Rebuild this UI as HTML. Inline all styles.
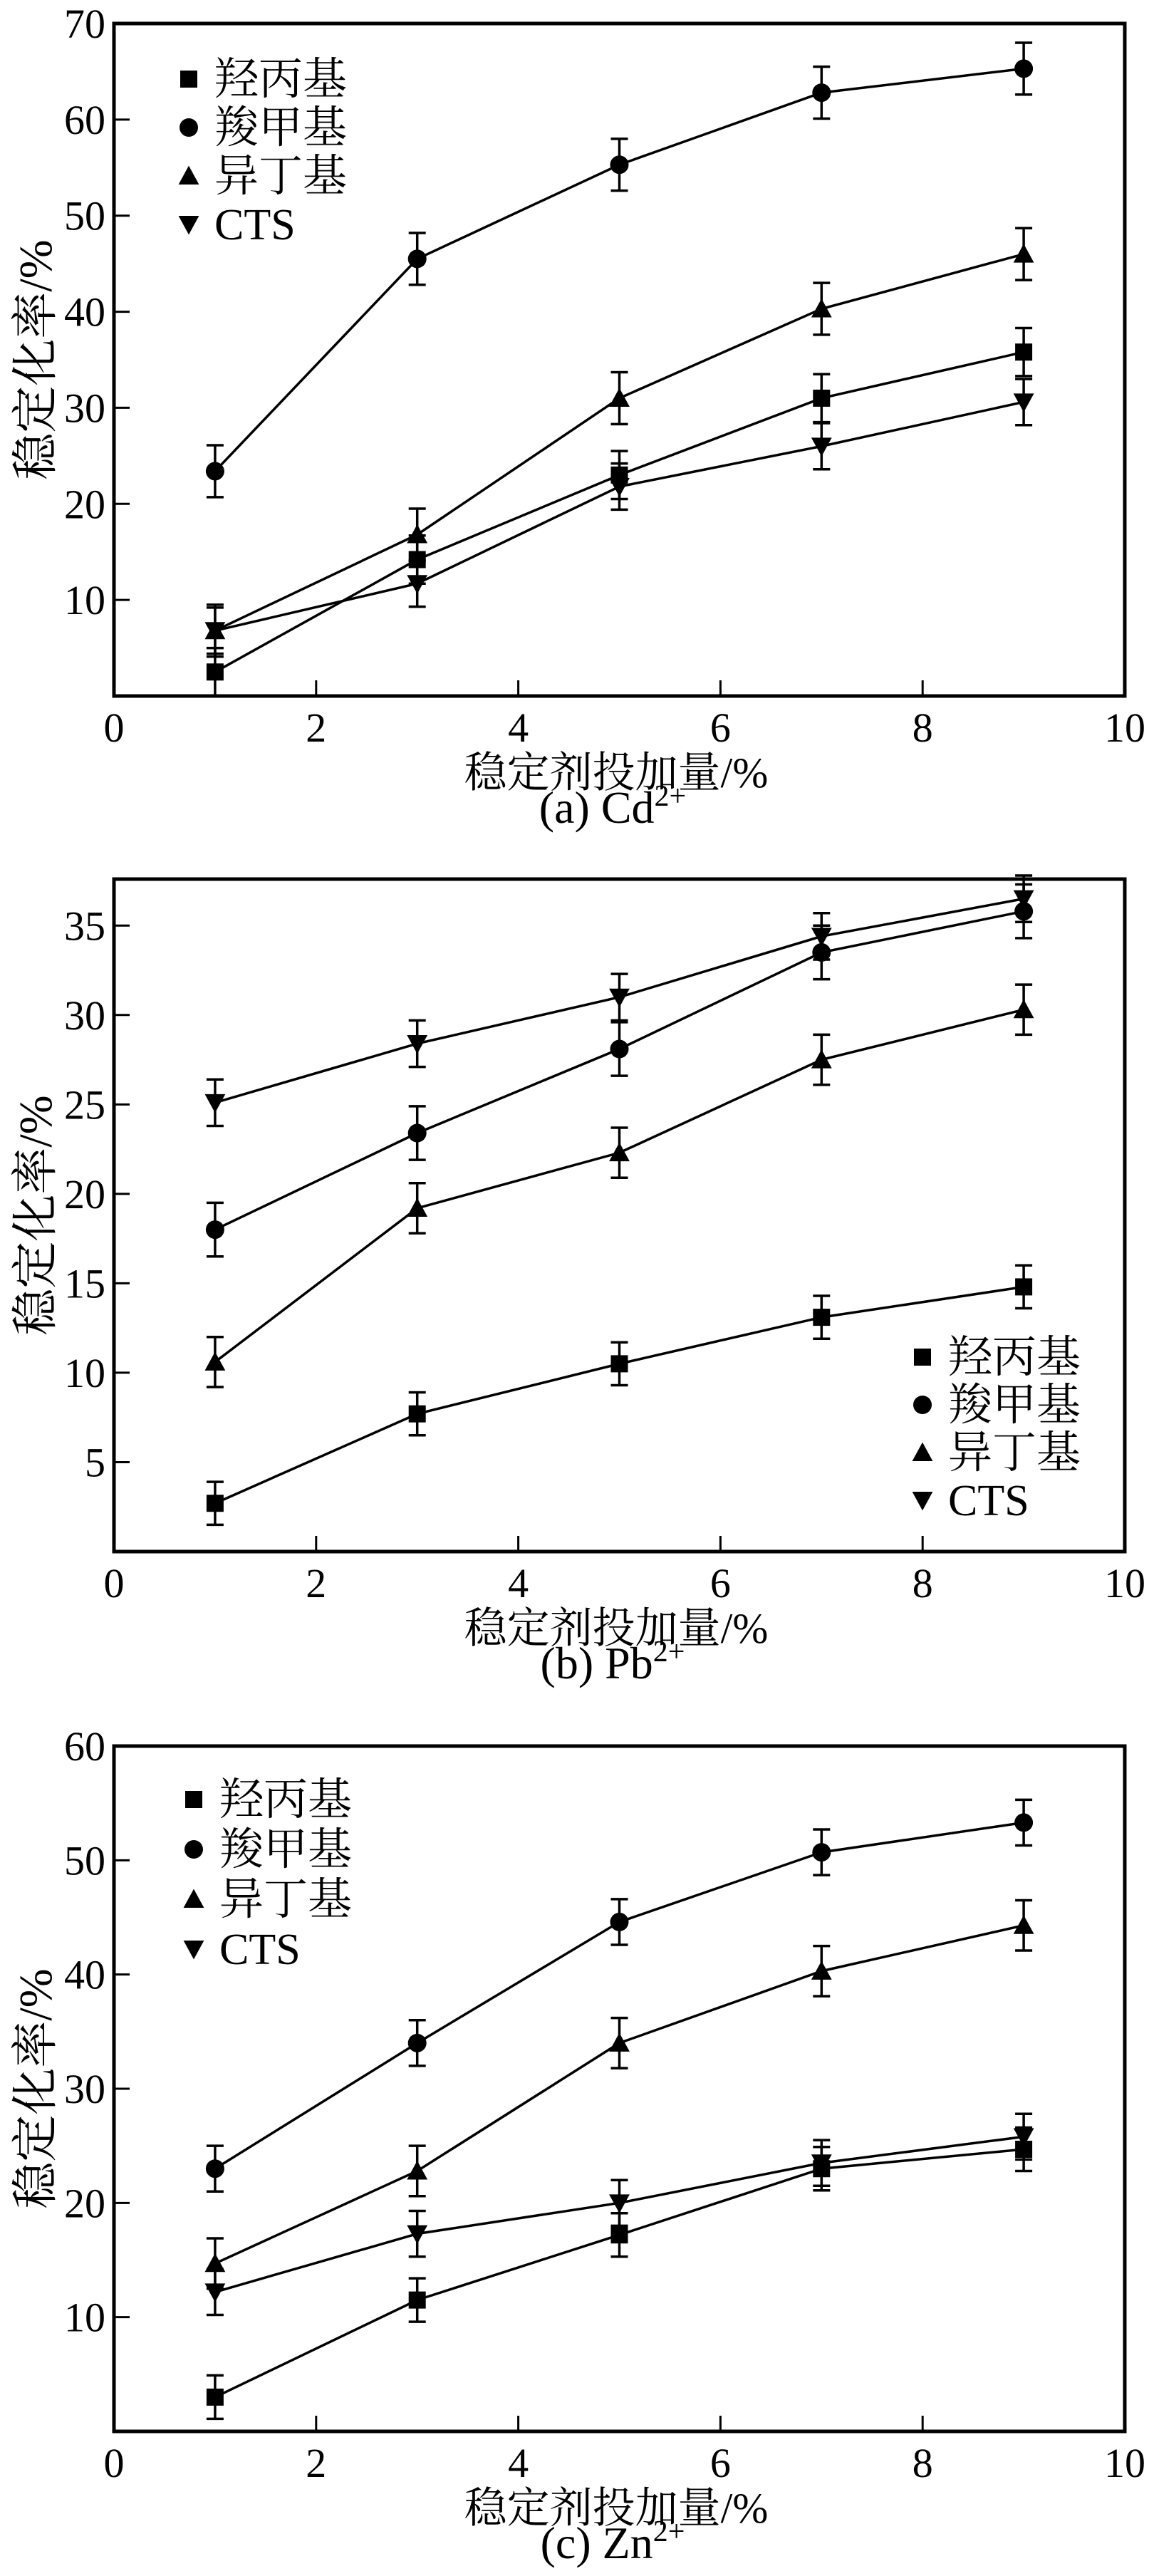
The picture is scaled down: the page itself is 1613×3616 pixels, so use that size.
<!DOCTYPE html>
<html><head><meta charset="utf-8">
<style>
html,body{margin:0;padding:0;background:#fff;}
svg{display:block;}
text{font-family:"Liberation Serif","Noto Serif CJK SC",serif;fill:#000;}
</style></head>
<body>
<svg id="fig" width="1613" height="3616" viewBox="0 0 1613 3616" xmlns="http://www.w3.org/2000/svg"></svg>
<script>
const xValues = [1, 3, 5, 7, 9];
const xTicks = [0, 2, 4, 6, 8, 10];
const seriesNames = ["羟丙基", "羧甲基", "异丁基", "CTS"];
const seriesMarkers = ["square", "circle", "up", "down"];

const aHydroxy = [2.5, 14.2, 23.0, 31.0, 35.8];
const aCarboxy = [23.4, 45.5, 55.3, 62.8, 65.3];
const aIsobutyl = [6.8, 16.8, 31.0, 40.3, 46.0];
const aCTS = [6.8, 11.7, 21.8, 26.0, 30.6];
const aErr = [2.5, 2.7, 2.7, 2.4];
const aYTicks = [10, 20, 30, 40, 50, 60, 70];

const bHydroxy = [2.7, 7.7, 10.5, 13.1, 14.8];
const bCarboxy = [18.0, 23.4, 28.1, 33.5, 35.8];
const bIsobutyl = [10.6, 19.2, 22.3, 27.5, 30.3];
const bCTS = [25.1, 28.4, 31.0, 34.4, 36.5];
const bErr = [1.2, 1.5, 1.4, 1.3];
const bYTicks = [5, 10, 15, 20, 25, 30, 35];

const cHydroxy = [3.0, 11.5, 17.2, 23.0, 24.7];
const cCarboxy = [23.0, 34.0, 44.6, 50.7, 53.3];
const cIsobutyl = [14.7, 22.8, 34.0, 40.3, 44.3];
const cCTS = [12.2, 17.3, 20.0, 23.5, 25.8];
const cErr = [1.9, 2.0, 2.2, 2.0];
const cYTicks = [10, 20, 30, 40, 50, 60];

const NS = "http://www.w3.org/2000/svg";
const svg = document.getElementById("fig");
function mk(tag, attrs, parent) {
  const e = document.createElementNS(NS, tag);
  for (const k in attrs) e.setAttribute(k, attrs[k]);
  (parent || svg).appendChild(e);
  return e;
}
function marker(g, type, cx, cy, s) {
  let e;
  if (type === "square") e = mk("rect", {x: cx - s/2, y: cy - s/2, width: s, height: s, fill: "#000"}, g);
  else if (type === "circle") e = mk("circle", {cx: cx, cy: cy, r: s/2 + 1, fill: "#000"}, g);
  else if (type === "up") e = mk("polygon", {points: `${cx-s*0.6},${cy+s*0.5} ${cx+s*0.6},${cy+s*0.5} ${cx},${cy-s*0.6}`, fill: "#000"}, g);
  else e = mk("polygon", {points: `${cx-s*0.6},${cy-s*0.5} ${cx+s*0.6},${cy-s*0.5} ${cx},${cy+s*0.6}`, fill: "#000"}, g);
  return e;
}

function drawChart(cfg) {
  const L = 160, R = 1579;
  const g = mk("g", {});
  
  
  const xs = v => L + (R - L) * v / 10;
  const ys = v => cfg.bottom - (cfg.bottom - cfg.top) * v / cfg.ymax;
  xTicks.forEach(t => {
    if (t > 0 && t < 10) {
      const tk = mk("line", {x1: xs(t), x2: xs(t), y1: cfg.bottom, y2: cfg.bottom - 22, stroke: "#000", "stroke-width": 3}, g);
      
      
    }
    const tl = mk("text", {x: xs(t), y: cfg.bottom + 64, "font-size": 58, "text-anchor": "middle"}, g);
    tl.textContent = t;
    
    
  });
  cfg.yTicks.forEach(t => {
    if (t < cfg.ymax - 0.5) {
      const tk = mk("line", {x1: L, x2: L + 22, y1: ys(t), y2: ys(t), stroke: "#000", "stroke-width": 3}, g);
      
      
    }
    const tl = mk("text", {x: L - 12, y: ys(t) + 20, "font-size": 58, "text-anchor": "end"}, g);
    tl.textContent = t;
    
    
  });
  const fr = mk("rect", {x: L, y: cfg.top, width: R - L, height: cfg.bottom - cfg.top, fill: "none", stroke: "#000", "stroke-width": 5}, g);
  
  
  cfg.series.forEach((vals, i) => {
    const sg = mk("g", {}, g);
    
    
    const pts = vals.map((v, j) => xs(xValues[j]) + "," + ys(v)).join(" ");
    const pl = mk("polyline", {points: pts, fill: "none", stroke: "#000", "stroke-width": 3.5}, sg);
    
    
    vals.forEach((v, j) => {
      const x = xs(xValues[j]);
      const e = cfg.err[i];
      const y1 = ys(v + e), y2 = ys(v - e);
      const eb = mk("path", {d: `M${x},${y1}V${y2}M${x-12},${y1}H${x+12}M${x-12},${y2}H${x+12}`, stroke: "#000", "stroke-width": 3.5, fill: "none"}, sg);
      
      
      const m = marker(sg, seriesMarkers[i], x, ys(v), 24);
      
      
    });
  });
  const lg = mk("g", {}, g);
  
  
  seriesNames.forEach((n, i) => {
    const y = cfg.legY + i * cfg.legGap;
    const m = marker(lg, seriesMarkers[i], cfg.legX, y, 24);
    
    
    const t = mk("text", {x: cfg.legX + 36, y: y + 21, "font-size": 62}, lg);
    t.textContent = n;
    
    
  });
  const xt = mk("text", {x: 865, y: cfg.bottom + 128, "font-size": 60, "text-anchor": "middle"}, g);
  xt.textContent = "稳定剂投加量/%";
  
  
  const yc = (cfg.top + cfg.bottom) / 2;
  const yt = mk("text", {x: 0, y: 0, "font-size": 66, "text-anchor": "middle", transform: `translate(72,${yc}) rotate(-90)`}, g);
  yt.textContent = "稳定化率/%";
  
  
  const cap = mk("text", {x: 860, y: cfg.bottom + 178, "font-size": 64, "text-anchor": "middle"}, g);
  cap.innerHTML = cfg.caption + '<tspan font-size="42" dy="-24">2+</tspan>';
  
  
}

drawChart({name: "chart-cd", top: 33, bottom: 977, ymax: 70, yTicks: aYTicks,
  series: [aHydroxy, aCarboxy, aIsobutyl, aCTS], err: aErr,
  legX: 265, legY: 111, legGap: 68, caption: "(a) Cd"});
drawChart({name: "chart-pb", top: 1234, bottom: 2178, ymax: 37.6, yTicks: bYTicks,
  series: [bHydroxy, bCarboxy, bIsobutyl, bCTS], err: bErr,
  legX: 1295, legY: 1905, legGap: 67, caption: "(b) Pb"});
drawChart({name: "chart-zn", top: 2451, bottom: 3413, ymax: 60, yTicks: cYTicks,
  series: [cHydroxy, cCarboxy, cIsobutyl, cCTS], err: cErr,
  legX: 272, legY: 2526, legGap: 70, caption: "(c) Zn"});
</script>
</body></html>
